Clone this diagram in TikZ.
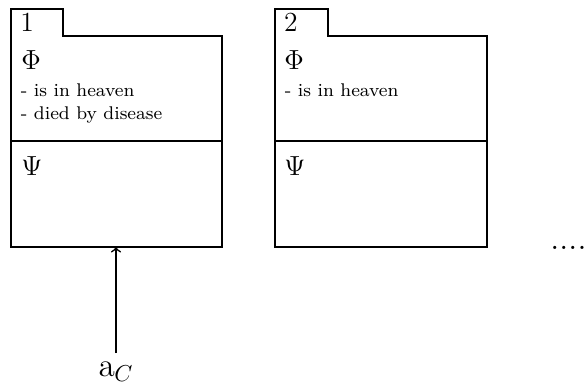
\documentclass[tikz,border=0pt]{standalone}
\begin{document}
\begin{tikzpicture}[x=0.43478pt,y=-0.43478pt,
  boxline/.style={line width=0.45pt},
  bignum/.style={anchor=base west,inner sep=0pt,font=\large},
  biglbl/.style={anchor=base west,inner sep=0pt,font=\large},
  smalltxt/.style={anchor=base west,inner sep=0pt,font=\footnotesize},
  conn/.style={line width=0.7pt,->}]
\useasboundingbox (0,0) rectangle (587,383);
% box 1
\draw[boxline] (11,247) -- (11,9) -- (63,9) -- (63,36) -- (222,36) -- (222,247) -- cycle;
\draw[boxline] (11,141) -- (222,141);
\node[bignum] (n1) at (20,31.7) {1};
\node[biglbl] (phi1) at (21,69.5) {$\Phi$};
\node[smalltxt] (t11) at (20.5,96) {- is in heaven};
\node[smalltxt] (t12) at (20.5,119.3) {- died by disease};
\node[biglbl] (psi1) at (21,175) {$\Psi$};
% box 2
\draw[boxline] (275,247) -- (275,9) -- (328,9) -- (328,36) -- (487,36) -- (487,247) -- cycle;
\draw[boxline] (275,141) -- (487,141);
\node[bignum] (n2) at (283.6,31.7) {2};
\node[biglbl] (phi2) at (284,69.5) {$\Phi$};
\node[smalltxt] (t21) at (284.5,96) {- is in heaven};
\node[biglbl] (psi2) at (284,175) {$\Psi$};
% dots
\node[anchor=base west,inner sep=0pt,font=\Large] (dots) at (550,249) {....};
% arrow and label
\coordinate (b1s) at (116,247);
\coordinate (a0) at (116,353);
\node[anchor=base,inner sep=0pt,font=\Large] (aC) at (116,376.3) {$\mathrm{a}_C$};
\draw[conn] (a0) -- (b1s);
\end{tikzpicture}
\end{document}
